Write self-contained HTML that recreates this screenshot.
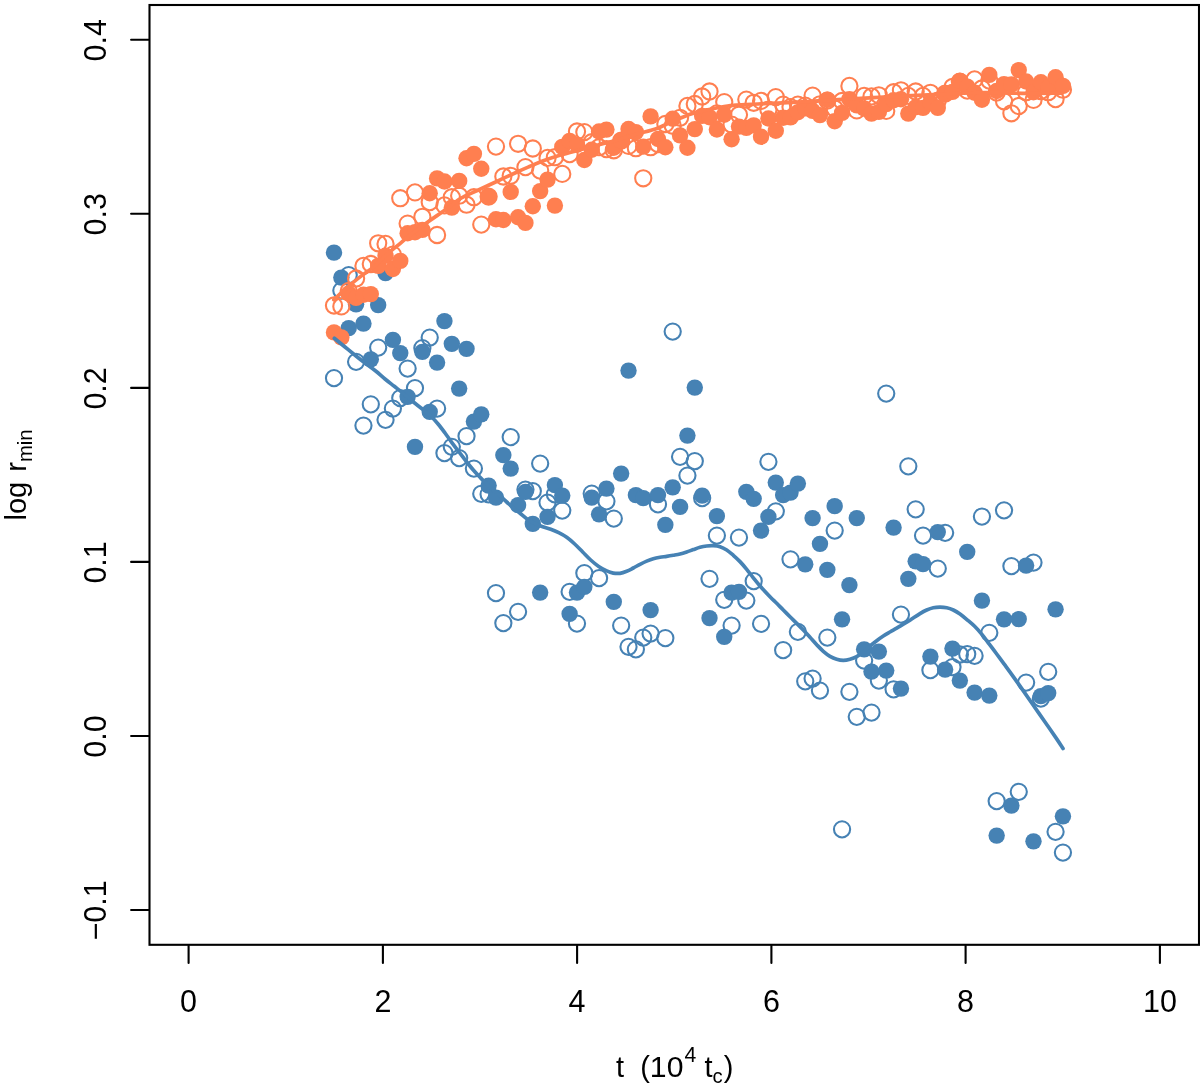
<!DOCTYPE html>
<html><head><meta charset="utf-8"><title>plot</title>
<style>
html,body{margin:0;padding:0;background:#fff;}
svg{display:block;}
text{font-family:"Liberation Sans",Arial,Helvetica,sans-serif;fill:#000;}
</style></head><body>
<svg width="1200" height="1091" viewBox="0 0 1200 1091">
<rect x="0" y="0" width="1200" height="1091" fill="#fff"/>

<g fill="none" stroke="#000" stroke-width="2.1" stroke-linecap="round" stroke-linejoin="miter">
<rect x="149.5" y="5.0" width="1049.5" height="939.8"/>
<line x1="188.6" y1="945.8" x2="188.6" y2="962.9"/>
<line x1="382.9" y1="945.8" x2="382.9" y2="962.9"/>
<line x1="577.1" y1="945.8" x2="577.1" y2="962.9"/>
<line x1="771.4" y1="945.8" x2="771.4" y2="962.9"/>
<line x1="965.6" y1="945.8" x2="965.6" y2="962.9"/>
<line x1="1159.9" y1="945.8" x2="1159.9" y2="962.9"/>
<line x1="131.1" y1="910.0" x2="148.5" y2="910.0"/>
<line x1="131.1" y1="736.0" x2="148.5" y2="736.0"/>
<line x1="131.1" y1="561.9" x2="148.5" y2="561.9"/>
<line x1="131.1" y1="387.9" x2="148.5" y2="387.9"/>
<line x1="131.1" y1="213.8" x2="148.5" y2="213.8"/>
<line x1="131.1" y1="39.8" x2="148.5" y2="39.8"/>
</g>
<g font-size="30.5" text-anchor="middle">
<text transform="translate(188.6 1011.7) scale(1 1.020)">0</text>
<text transform="translate(382.9 1011.7) scale(1 1.020)">2</text>
<text transform="translate(577.1 1011.7) scale(1 1.020)">4</text>
<text transform="translate(771.4 1011.7) scale(1 1.020)">6</text>
<text transform="translate(965.6 1011.7) scale(1 1.020)">8</text>
<text transform="translate(1159.9 1011.7) scale(1 1.020)">10</text>
<text transform="translate(106.2 910.5) rotate(-90) scale(1 1.020)">−0.1</text>
<text transform="translate(106.2 736.5) rotate(-90) scale(1 1.020)">0.0</text>
<text transform="translate(106.2 562.4) rotate(-90) scale(1 1.020)">0.1</text>
<text transform="translate(106.2 388.4) rotate(-90) scale(1 1.020)">0.2</text>
<text transform="translate(106.2 214.3) rotate(-90) scale(1 1.020)">0.3</text>
<text transform="translate(106.2 40.3) rotate(-90) scale(1 1.020)">0.4</text>
</g>
<text transform="translate(616 1077.3)" font-size="29" xml:space="preserve">t  (<tspan font-size="30.2">10</tspan><tspan font-size="21.2" dy="-15" dx="1.2">4</tspan><tspan dy="15"> t</tspan><tspan font-size="20.3" dy="6">c</tspan><tspan dy="-6" dx="1">)</tspan></text>
<text transform="translate(26 520.5) rotate(-90)" font-size="29" word-spacing="2">log r<tspan font-size="20.3" dy="6.2">min</tspan></text>
<g fill="none" stroke="#4682B4" stroke-width="2.08">
<circle cx="334.00" cy="378.10" r="8.10"/>
<circle cx="341.36" cy="290.60" r="8.10"/>
<circle cx="348.73" cy="275.10" r="8.10"/>
<circle cx="356.09" cy="361.85" r="8.10"/>
<circle cx="363.45" cy="425.60" r="8.10"/>
<circle cx="370.81" cy="404.35" r="8.10"/>
<circle cx="378.18" cy="347.60" r="8.10"/>
<circle cx="385.54" cy="419.85" r="8.10"/>
<circle cx="392.90" cy="408.60" r="8.10"/>
<circle cx="400.27" cy="398.10" r="8.10"/>
<circle cx="407.63" cy="368.60" r="8.10"/>
<circle cx="414.99" cy="388.10" r="8.10"/>
<circle cx="422.36" cy="348.10" r="8.10"/>
<circle cx="429.72" cy="337.60" r="8.10"/>
<circle cx="437.08" cy="408.60" r="8.10"/>
<circle cx="444.44" cy="453.10" r="8.10"/>
<circle cx="451.81" cy="446.85" r="8.10"/>
<circle cx="459.17" cy="458.10" r="8.10"/>
<circle cx="466.53" cy="436.10" r="8.10"/>
<circle cx="473.90" cy="468.60" r="8.10"/>
<circle cx="481.26" cy="493.85" r="8.10"/>
<circle cx="488.62" cy="494.35" r="8.10"/>
<circle cx="495.99" cy="593.10" r="8.10"/>
<circle cx="503.35" cy="623.10" r="8.10"/>
<circle cx="510.71" cy="437.10" r="8.10"/>
<circle cx="518.08" cy="611.85" r="8.10"/>
<circle cx="525.44" cy="489.60" r="8.10"/>
<circle cx="532.80" cy="491.10" r="8.10"/>
<circle cx="540.16" cy="463.60" r="8.10"/>
<circle cx="547.53" cy="502.60" r="8.10"/>
<circle cx="554.89" cy="494.35" r="8.10"/>
<circle cx="562.25" cy="510.60" r="8.10"/>
<circle cx="569.62" cy="591.85" r="8.10"/>
<circle cx="576.98" cy="623.60" r="8.10"/>
<circle cx="584.34" cy="573.10" r="8.10"/>
<circle cx="591.71" cy="493.60" r="8.10"/>
<circle cx="599.07" cy="578.10" r="8.10"/>
<circle cx="606.43" cy="501.35" r="8.10"/>
<circle cx="613.79" cy="518.60" r="8.10"/>
<circle cx="621.16" cy="625.60" r="8.10"/>
<circle cx="628.52" cy="646.85" r="8.10"/>
<circle cx="635.88" cy="649.35" r="8.10"/>
<circle cx="643.25" cy="637.60" r="8.10"/>
<circle cx="650.61" cy="633.60" r="8.10"/>
<circle cx="657.97" cy="504.35" r="8.10"/>
<circle cx="665.34" cy="638.10" r="8.10"/>
<circle cx="672.70" cy="331.60" r="8.10"/>
<circle cx="680.06" cy="456.85" r="8.10"/>
<circle cx="687.42" cy="475.60" r="8.10"/>
<circle cx="694.79" cy="461.10" r="8.10"/>
<circle cx="702.15" cy="498.10" r="8.10"/>
<circle cx="709.51" cy="578.85" r="8.10"/>
<circle cx="716.88" cy="535.60" r="8.10"/>
<circle cx="724.24" cy="599.85" r="8.10"/>
<circle cx="731.60" cy="625.60" r="8.10"/>
<circle cx="738.97" cy="537.60" r="8.10"/>
<circle cx="746.33" cy="600.60" r="8.10"/>
<circle cx="753.69" cy="581.10" r="8.10"/>
<circle cx="761.05" cy="623.85" r="8.10"/>
<circle cx="768.42" cy="461.85" r="8.10"/>
<circle cx="775.78" cy="511.35" r="8.10"/>
<circle cx="783.14" cy="650.10" r="8.10"/>
<circle cx="790.51" cy="559.35" r="8.10"/>
<circle cx="797.87" cy="631.85" r="8.10"/>
<circle cx="805.23" cy="681.35" r="8.10"/>
<circle cx="812.60" cy="678.60" r="8.10"/>
<circle cx="819.96" cy="690.60" r="8.10"/>
<circle cx="827.32" cy="637.60" r="8.10"/>
<circle cx="834.68" cy="530.60" r="8.10"/>
<circle cx="842.05" cy="829.35" r="8.10"/>
<circle cx="849.41" cy="691.85" r="8.10"/>
<circle cx="856.77" cy="716.85" r="8.10"/>
<circle cx="864.14" cy="660.60" r="8.10"/>
<circle cx="871.50" cy="712.60" r="8.10"/>
<circle cx="878.86" cy="680.60" r="8.10"/>
<circle cx="886.23" cy="393.60" r="8.10"/>
<circle cx="893.59" cy="689.35" r="8.10"/>
<circle cx="900.95" cy="614.60" r="8.10"/>
<circle cx="908.31" cy="466.35" r="8.10"/>
<circle cx="915.68" cy="509.35" r="8.10"/>
<circle cx="923.04" cy="535.60" r="8.10"/>
<circle cx="930.40" cy="670.10" r="8.10"/>
<circle cx="937.77" cy="568.60" r="8.10"/>
<circle cx="945.13" cy="532.85" r="8.10"/>
<circle cx="952.49" cy="667.10" r="8.10"/>
<circle cx="959.86" cy="654.50" r="8.10"/>
<circle cx="967.22" cy="654.10" r="8.10"/>
<circle cx="974.58" cy="655.85" r="8.10"/>
<circle cx="981.94" cy="516.60" r="8.10"/>
<circle cx="989.31" cy="632.85" r="8.10"/>
<circle cx="996.67" cy="801.10" r="8.10"/>
<circle cx="1004.03" cy="510.35" r="8.10"/>
<circle cx="1011.40" cy="566.10" r="8.10"/>
<circle cx="1018.76" cy="791.85" r="8.10"/>
<circle cx="1026.12" cy="682.60" r="8.10"/>
<circle cx="1033.49" cy="562.60" r="8.10"/>
<circle cx="1040.85" cy="698.60" r="8.10"/>
<circle cx="1048.21" cy="671.85" r="8.10"/>
<circle cx="1055.57" cy="831.85" r="8.10"/>
<circle cx="1062.94" cy="852.60" r="8.10"/>
</g>
<g fill="#4682B4" stroke="none">
<circle cx="334.00" cy="252.60" r="8.20"/>
<circle cx="341.36" cy="277.60" r="8.20"/>
<circle cx="348.73" cy="328.10" r="8.20"/>
<circle cx="356.09" cy="304.35" r="8.20"/>
<circle cx="363.45" cy="323.60" r="8.20"/>
<circle cx="370.81" cy="359.35" r="8.20"/>
<circle cx="378.18" cy="305.10" r="8.20"/>
<circle cx="385.54" cy="273.10" r="8.20"/>
<circle cx="392.90" cy="339.85" r="8.20"/>
<circle cx="400.27" cy="353.10" r="8.20"/>
<circle cx="407.63" cy="396.85" r="8.20"/>
<circle cx="414.99" cy="446.85" r="8.20"/>
<circle cx="422.36" cy="351.85" r="8.20"/>
<circle cx="429.72" cy="411.85" r="8.20"/>
<circle cx="437.08" cy="362.60" r="8.20"/>
<circle cx="444.44" cy="321.10" r="8.20"/>
<circle cx="451.81" cy="343.85" r="8.20"/>
<circle cx="459.17" cy="388.60" r="8.20"/>
<circle cx="466.53" cy="348.85" r="8.20"/>
<circle cx="473.90" cy="421.60" r="8.20"/>
<circle cx="481.26" cy="414.35" r="8.20"/>
<circle cx="488.62" cy="485.60" r="8.20"/>
<circle cx="495.99" cy="497.60" r="8.20"/>
<circle cx="503.35" cy="455.10" r="8.20"/>
<circle cx="510.71" cy="468.60" r="8.20"/>
<circle cx="518.08" cy="505.10" r="8.20"/>
<circle cx="525.44" cy="491.85" r="8.20"/>
<circle cx="532.80" cy="523.85" r="8.20"/>
<circle cx="540.16" cy="592.60" r="8.20"/>
<circle cx="547.53" cy="516.85" r="8.20"/>
<circle cx="554.89" cy="485.10" r="8.20"/>
<circle cx="562.25" cy="495.60" r="8.20"/>
<circle cx="569.62" cy="613.85" r="8.20"/>
<circle cx="576.98" cy="592.60" r="8.20"/>
<circle cx="584.34" cy="586.85" r="8.20"/>
<circle cx="591.71" cy="497.60" r="8.20"/>
<circle cx="599.07" cy="514.35" r="8.20"/>
<circle cx="606.43" cy="488.60" r="8.20"/>
<circle cx="613.79" cy="601.85" r="8.20"/>
<circle cx="621.16" cy="473.60" r="8.20"/>
<circle cx="628.52" cy="370.60" r="8.20"/>
<circle cx="635.88" cy="495.10" r="8.20"/>
<circle cx="643.25" cy="498.10" r="8.20"/>
<circle cx="650.61" cy="610.10" r="8.20"/>
<circle cx="657.97" cy="495.10" r="8.20"/>
<circle cx="665.34" cy="524.85" r="8.20"/>
<circle cx="672.70" cy="487.35" r="8.20"/>
<circle cx="680.06" cy="506.85" r="8.20"/>
<circle cx="687.42" cy="435.60" r="8.20"/>
<circle cx="694.79" cy="387.60" r="8.20"/>
<circle cx="702.15" cy="495.60" r="8.20"/>
<circle cx="709.51" cy="618.10" r="8.20"/>
<circle cx="716.88" cy="516.10" r="8.20"/>
<circle cx="724.24" cy="636.85" r="8.20"/>
<circle cx="731.60" cy="592.60" r="8.20"/>
<circle cx="738.97" cy="591.85" r="8.20"/>
<circle cx="746.33" cy="491.85" r="8.20"/>
<circle cx="753.69" cy="498.85" r="8.20"/>
<circle cx="761.05" cy="530.60" r="8.20"/>
<circle cx="768.42" cy="516.85" r="8.20"/>
<circle cx="775.78" cy="482.60" r="8.20"/>
<circle cx="783.14" cy="495.10" r="8.20"/>
<circle cx="790.51" cy="492.60" r="8.20"/>
<circle cx="797.87" cy="483.60" r="8.20"/>
<circle cx="805.23" cy="564.35" r="8.20"/>
<circle cx="812.60" cy="518.10" r="8.20"/>
<circle cx="819.96" cy="543.85" r="8.20"/>
<circle cx="827.32" cy="569.85" r="8.20"/>
<circle cx="834.68" cy="506.10" r="8.20"/>
<circle cx="842.05" cy="619.35" r="8.20"/>
<circle cx="849.41" cy="585.10" r="8.20"/>
<circle cx="856.77" cy="518.10" r="8.20"/>
<circle cx="864.14" cy="649.35" r="8.20"/>
<circle cx="871.50" cy="671.60" r="8.20"/>
<circle cx="878.86" cy="651.60" r="8.20"/>
<circle cx="886.23" cy="670.60" r="8.20"/>
<circle cx="893.59" cy="527.60" r="8.20"/>
<circle cx="900.95" cy="688.60" r="8.20"/>
<circle cx="908.31" cy="578.85" r="8.20"/>
<circle cx="915.68" cy="561.35" r="8.20"/>
<circle cx="923.04" cy="564.10" r="8.20"/>
<circle cx="930.40" cy="656.60" r="8.20"/>
<circle cx="937.77" cy="532.10" r="8.20"/>
<circle cx="945.13" cy="669.60" r="8.20"/>
<circle cx="952.49" cy="648.60" r="8.20"/>
<circle cx="959.86" cy="680.60" r="8.20"/>
<circle cx="967.22" cy="551.85" r="8.20"/>
<circle cx="974.58" cy="692.60" r="8.20"/>
<circle cx="981.94" cy="600.60" r="8.20"/>
<circle cx="989.31" cy="695.60" r="8.20"/>
<circle cx="996.67" cy="835.60" r="8.20"/>
<circle cx="1004.03" cy="619.35" r="8.20"/>
<circle cx="1011.40" cy="805.60" r="8.20"/>
<circle cx="1018.76" cy="619.10" r="8.20"/>
<circle cx="1026.12" cy="565.60" r="8.20"/>
<circle cx="1033.49" cy="841.35" r="8.20"/>
<circle cx="1040.85" cy="696.10" r="8.20"/>
<circle cx="1048.21" cy="693.10" r="8.20"/>
<circle cx="1055.57" cy="609.35" r="8.20"/>
<circle cx="1062.94" cy="816.35" r="8.20"/>
</g>
<g fill="none" stroke="#FF7F50" stroke-width="2.08">
<circle cx="334.00" cy="305.50" r="8.10"/>
<circle cx="341.36" cy="306.40" r="8.10"/>
<circle cx="348.73" cy="291.00" r="8.10"/>
<circle cx="356.09" cy="278.50" r="8.10"/>
<circle cx="363.45" cy="265.90" r="8.10"/>
<circle cx="370.81" cy="264.00" r="8.10"/>
<circle cx="378.18" cy="243.30" r="8.10"/>
<circle cx="385.54" cy="243.90" r="8.10"/>
<circle cx="392.90" cy="254.60" r="8.10"/>
<circle cx="400.27" cy="198.20" r="8.10"/>
<circle cx="407.63" cy="223.60" r="8.10"/>
<circle cx="414.99" cy="192.40" r="8.10"/>
<circle cx="422.36" cy="216.80" r="8.10"/>
<circle cx="429.72" cy="202.10" r="8.10"/>
<circle cx="437.08" cy="235.00" r="8.10"/>
<circle cx="444.44" cy="205.40" r="8.10"/>
<circle cx="451.81" cy="197.20" r="8.10"/>
<circle cx="459.17" cy="195.70" r="8.10"/>
<circle cx="466.53" cy="204.70" r="8.10"/>
<circle cx="473.90" cy="197.20" r="8.10"/>
<circle cx="481.26" cy="224.60" r="8.10"/>
<circle cx="488.62" cy="196.60" r="8.10"/>
<circle cx="495.99" cy="146.60" r="8.10"/>
<circle cx="503.35" cy="176.50" r="8.10"/>
<circle cx="510.71" cy="175.80" r="8.10"/>
<circle cx="518.08" cy="143.80" r="8.10"/>
<circle cx="525.44" cy="167.10" r="8.10"/>
<circle cx="532.80" cy="148.50" r="8.10"/>
<circle cx="540.16" cy="170.60" r="8.10"/>
<circle cx="547.53" cy="157.90" r="8.10"/>
<circle cx="554.89" cy="157.20" r="8.10"/>
<circle cx="562.25" cy="173.90" r="8.10"/>
<circle cx="569.62" cy="154.10" r="8.10"/>
<circle cx="576.98" cy="131.50" r="8.10"/>
<circle cx="584.34" cy="132.10" r="8.10"/>
<circle cx="591.71" cy="142.20" r="8.10"/>
<circle cx="599.07" cy="147.20" r="8.10"/>
<circle cx="606.43" cy="149.10" r="8.10"/>
<circle cx="613.79" cy="150.30" r="8.10"/>
<circle cx="621.16" cy="140.60" r="8.10"/>
<circle cx="628.52" cy="145.90" r="8.10"/>
<circle cx="635.88" cy="148.20" r="8.10"/>
<circle cx="643.25" cy="178.30" r="8.10"/>
<circle cx="650.61" cy="147.20" r="8.10"/>
<circle cx="657.97" cy="144.10" r="8.10"/>
<circle cx="665.34" cy="124.00" r="8.10"/>
<circle cx="672.70" cy="125.80" r="8.10"/>
<circle cx="680.06" cy="117.80" r="8.10"/>
<circle cx="687.42" cy="105.90" r="8.10"/>
<circle cx="694.79" cy="104.00" r="8.10"/>
<circle cx="702.15" cy="96.50" r="8.10"/>
<circle cx="709.51" cy="91.50" r="8.10"/>
<circle cx="716.88" cy="113.40" r="8.10"/>
<circle cx="724.24" cy="102.10" r="8.10"/>
<circle cx="731.60" cy="124.60" r="8.10"/>
<circle cx="738.97" cy="114.70" r="8.10"/>
<circle cx="746.33" cy="99.60" r="8.10"/>
<circle cx="753.69" cy="102.80" r="8.10"/>
<circle cx="761.05" cy="100.90" r="8.10"/>
<circle cx="768.42" cy="109.70" r="8.10"/>
<circle cx="775.78" cy="97.10" r="8.10"/>
<circle cx="783.14" cy="104.60" r="8.10"/>
<circle cx="790.51" cy="107.10" r="8.10"/>
<circle cx="797.87" cy="104.60" r="8.10"/>
<circle cx="805.23" cy="105.60" r="8.10"/>
<circle cx="812.60" cy="95.60" r="8.10"/>
<circle cx="819.96" cy="104.30" r="8.10"/>
<circle cx="827.32" cy="100.60" r="8.10"/>
<circle cx="834.68" cy="108.50" r="8.10"/>
<circle cx="842.05" cy="101.00" r="8.10"/>
<circle cx="849.41" cy="85.90" r="8.10"/>
<circle cx="856.77" cy="110.40" r="8.10"/>
<circle cx="864.14" cy="95.90" r="8.10"/>
<circle cx="871.50" cy="96.40" r="8.10"/>
<circle cx="878.86" cy="95.30" r="8.10"/>
<circle cx="886.23" cy="110.90" r="8.10"/>
<circle cx="893.59" cy="92.20" r="8.10"/>
<circle cx="900.95" cy="90.30" r="8.10"/>
<circle cx="908.31" cy="95.90" r="8.10"/>
<circle cx="915.68" cy="91.50" r="8.10"/>
<circle cx="923.04" cy="95.90" r="8.10"/>
<circle cx="930.40" cy="92.80" r="8.10"/>
<circle cx="937.77" cy="100.60" r="8.10"/>
<circle cx="945.13" cy="93.60" r="8.10"/>
<circle cx="952.49" cy="87.00" r="8.10"/>
<circle cx="959.86" cy="81.60" r="8.10"/>
<circle cx="967.22" cy="90.60" r="8.10"/>
<circle cx="974.58" cy="79.40" r="8.10"/>
<circle cx="981.94" cy="88.50" r="8.10"/>
<circle cx="989.31" cy="80.60" r="8.10"/>
<circle cx="996.67" cy="92.60" r="8.10"/>
<circle cx="1004.03" cy="101.30" r="8.10"/>
<circle cx="1011.40" cy="113.30" r="8.10"/>
<circle cx="1018.76" cy="106.00" r="8.10"/>
<circle cx="1026.12" cy="92.20" r="8.10"/>
<circle cx="1033.49" cy="99.90" r="8.10"/>
<circle cx="1040.85" cy="91.00" r="8.10"/>
<circle cx="1048.21" cy="92.20" r="8.10"/>
<circle cx="1055.57" cy="99.10" r="8.10"/>
<circle cx="1062.94" cy="89.70" r="8.10"/>
</g>
<g fill="#FF7F50" stroke="none">
<circle cx="334.00" cy="332.40" r="8.20"/>
<circle cx="341.36" cy="337.40" r="8.20"/>
<circle cx="348.73" cy="293.50" r="8.20"/>
<circle cx="356.09" cy="297.90" r="8.20"/>
<circle cx="363.45" cy="294.80" r="8.20"/>
<circle cx="370.81" cy="294.10" r="8.20"/>
<circle cx="378.18" cy="265.90" r="8.20"/>
<circle cx="385.54" cy="255.80" r="8.20"/>
<circle cx="392.90" cy="269.00" r="8.20"/>
<circle cx="400.27" cy="260.90" r="8.20"/>
<circle cx="407.63" cy="233.30" r="8.20"/>
<circle cx="414.99" cy="232.20" r="8.20"/>
<circle cx="422.36" cy="229.90" r="8.20"/>
<circle cx="429.72" cy="193.20" r="8.20"/>
<circle cx="437.08" cy="178.40" r="8.20"/>
<circle cx="444.44" cy="181.50" r="8.20"/>
<circle cx="451.81" cy="207.60" r="8.20"/>
<circle cx="459.17" cy="180.90" r="8.20"/>
<circle cx="466.53" cy="158.30" r="8.20"/>
<circle cx="473.90" cy="153.90" r="8.20"/>
<circle cx="481.26" cy="168.70" r="8.20"/>
<circle cx="488.62" cy="196.90" r="8.20"/>
<circle cx="495.99" cy="219.20" r="8.20"/>
<circle cx="503.35" cy="220.00" r="8.20"/>
<circle cx="510.71" cy="191.90" r="8.20"/>
<circle cx="518.08" cy="217.30" r="8.20"/>
<circle cx="525.44" cy="222.90" r="8.20"/>
<circle cx="532.80" cy="206.30" r="8.20"/>
<circle cx="540.16" cy="191.10" r="8.20"/>
<circle cx="547.53" cy="179.60" r="8.20"/>
<circle cx="554.89" cy="205.60" r="8.20"/>
<circle cx="562.25" cy="146.90" r="8.20"/>
<circle cx="569.62" cy="140.90" r="8.20"/>
<circle cx="576.98" cy="144.70" r="8.20"/>
<circle cx="584.34" cy="160.00" r="8.20"/>
<circle cx="591.71" cy="149.70" r="8.20"/>
<circle cx="599.07" cy="131.50" r="8.20"/>
<circle cx="606.43" cy="129.60" r="8.20"/>
<circle cx="613.79" cy="147.80" r="8.20"/>
<circle cx="621.16" cy="140.90" r="8.20"/>
<circle cx="628.52" cy="129.00" r="8.20"/>
<circle cx="635.88" cy="132.10" r="8.20"/>
<circle cx="643.25" cy="146.60" r="8.20"/>
<circle cx="650.61" cy="116.40" r="8.20"/>
<circle cx="657.97" cy="139.00" r="8.20"/>
<circle cx="665.34" cy="147.20" r="8.20"/>
<circle cx="672.70" cy="118.70" r="8.20"/>
<circle cx="680.06" cy="135.40" r="8.20"/>
<circle cx="687.42" cy="147.70" r="8.20"/>
<circle cx="694.79" cy="129.10" r="8.20"/>
<circle cx="702.15" cy="115.90" r="8.20"/>
<circle cx="709.51" cy="117.20" r="8.20"/>
<circle cx="716.88" cy="129.50" r="8.20"/>
<circle cx="724.24" cy="114.70" r="8.20"/>
<circle cx="731.60" cy="139.20" r="8.20"/>
<circle cx="738.97" cy="126.60" r="8.20"/>
<circle cx="746.33" cy="127.90" r="8.20"/>
<circle cx="753.69" cy="125.40" r="8.20"/>
<circle cx="761.05" cy="136.70" r="8.20"/>
<circle cx="768.42" cy="118.50" r="8.20"/>
<circle cx="775.78" cy="130.80" r="8.20"/>
<circle cx="783.14" cy="117.80" r="8.20"/>
<circle cx="790.51" cy="117.40" r="8.20"/>
<circle cx="797.87" cy="112.20" r="8.20"/>
<circle cx="805.23" cy="108.40" r="8.20"/>
<circle cx="812.60" cy="110.90" r="8.20"/>
<circle cx="819.96" cy="115.10" r="8.20"/>
<circle cx="827.32" cy="99.70" r="8.20"/>
<circle cx="834.68" cy="121.20" r="8.20"/>
<circle cx="842.05" cy="112.90" r="8.20"/>
<circle cx="849.41" cy="99.10" r="8.20"/>
<circle cx="856.77" cy="105.40" r="8.20"/>
<circle cx="864.14" cy="108.50" r="8.20"/>
<circle cx="871.50" cy="113.60" r="8.20"/>
<circle cx="878.86" cy="111.90" r="8.20"/>
<circle cx="886.23" cy="104.10" r="8.20"/>
<circle cx="893.59" cy="100.20" r="8.20"/>
<circle cx="900.95" cy="99.20" r="8.20"/>
<circle cx="908.31" cy="113.60" r="8.20"/>
<circle cx="915.68" cy="107.20" r="8.20"/>
<circle cx="923.04" cy="107.90" r="8.20"/>
<circle cx="930.40" cy="102.60" r="8.20"/>
<circle cx="937.77" cy="107.90" r="8.20"/>
<circle cx="945.13" cy="94.10" r="8.20"/>
<circle cx="952.49" cy="91.90" r="8.20"/>
<circle cx="959.86" cy="80.90" r="8.20"/>
<circle cx="967.22" cy="86.60" r="8.20"/>
<circle cx="974.58" cy="92.80" r="8.20"/>
<circle cx="981.94" cy="99.80" r="8.20"/>
<circle cx="989.31" cy="74.90" r="8.20"/>
<circle cx="996.67" cy="91.00" r="8.20"/>
<circle cx="1004.03" cy="84.10" r="8.20"/>
<circle cx="1011.40" cy="84.40" r="8.20"/>
<circle cx="1018.76" cy="70.10" r="8.20"/>
<circle cx="1026.12" cy="81.50" r="8.20"/>
<circle cx="1033.49" cy="92.20" r="8.20"/>
<circle cx="1040.85" cy="82.20" r="8.20"/>
<circle cx="1048.21" cy="87.50" r="8.20"/>
<circle cx="1055.57" cy="77.20" r="8.20"/>
<circle cx="1062.94" cy="85.90" r="8.20"/>
</g>
<path d="M334.30 338.30 C336.08 339.75 341.43 344.10 345.00 347.00 C348.57 349.90 352.37 353.03 355.70 355.70 C359.03 358.37 361.67 360.45 365.00 363.00 C368.33 365.55 372.37 368.33 375.70 371.00 C379.03 373.67 381.90 376.45 385.00 379.00 C388.10 381.55 391.18 383.85 394.30 386.30 C397.42 388.75 400.58 391.13 403.70 393.70 C406.82 396.27 409.90 399.15 413.00 401.70 C416.10 404.25 419.18 406.45 422.30 409.00 C425.42 411.55 429.03 414.45 431.70 417.00 C434.37 419.55 436.08 421.63 438.30 424.30 C440.52 426.97 442.77 430.00 445.00 433.00 C447.23 436.00 449.48 439.30 451.70 442.30 C453.92 445.30 455.80 447.72 458.30 451.00 C460.80 454.28 464.20 458.83 466.70 462.00 C469.20 465.17 471.08 467.45 473.30 470.00 C475.52 472.55 477.77 474.97 480.00 477.30 C482.23 479.63 483.37 480.88 486.70 484.00 C490.03 487.12 496.67 493.00 500.00 496.00 C503.33 499.00 504.48 500.00 506.70 502.00 C508.92 504.00 511.08 506.12 513.30 508.00 C515.52 509.88 517.77 511.52 520.00 513.30 C522.23 515.08 524.25 517.03 526.70 518.70 C529.15 520.37 532.03 521.97 534.70 523.30 C537.37 524.63 540.03 525.70 542.70 526.70 C545.37 527.70 548.03 528.30 550.70 529.30 C553.37 530.30 556.03 531.37 558.70 532.70 C561.37 534.03 564.03 535.42 566.70 537.30 C569.37 539.18 572.03 541.55 574.70 544.00 C577.37 546.45 580.03 549.33 582.70 552.00 C585.37 554.67 588.03 557.58 590.70 560.00 C593.37 562.42 596.03 564.68 598.70 566.50 C601.37 568.32 604.27 569.80 606.70 570.90 C609.13 572.00 611.08 572.70 613.30 573.10 C615.52 573.50 617.77 573.60 620.00 573.30 C622.23 573.00 624.48 572.18 626.70 571.30 C628.92 570.42 631.08 569.17 633.30 568.00 C635.52 566.83 637.77 565.45 640.00 564.30 C642.23 563.15 644.48 562.03 646.70 561.10 C648.92 560.17 651.08 559.33 653.30 558.70 C655.52 558.07 657.77 557.68 660.00 557.30 C662.23 556.92 664.48 556.73 666.70 556.40 C668.92 556.07 671.08 555.70 673.30 555.30 C675.52 554.90 677.77 554.55 680.00 554.00 C682.23 553.45 684.48 552.73 686.70 552.00 C688.92 551.27 691.08 550.38 693.30 549.60 C695.52 548.82 697.77 547.90 700.00 547.30 C702.23 546.70 704.48 546.27 706.70 546.00 C708.92 545.73 711.08 545.58 713.30 545.70 C715.52 545.82 717.77 545.98 720.00 546.70 C722.23 547.42 724.48 548.57 726.70 550.00 C728.92 551.43 731.08 553.37 733.30 555.30 C735.52 557.23 737.77 559.27 740.00 561.60 C742.23 563.93 744.48 566.60 746.70 569.30 C748.92 572.00 751.08 575.02 753.30 577.80 C755.52 580.58 757.22 582.85 760.00 586.00 C762.78 589.15 767.22 593.82 770.00 596.70 C772.78 599.58 774.48 601.08 776.70 603.30 C778.92 605.52 781.08 607.77 783.30 610.00 C785.52 612.23 787.77 614.48 790.00 616.70 C792.23 618.92 794.48 621.08 796.70 623.30 C798.92 625.52 801.08 627.67 803.30 630.00 C805.52 632.33 807.77 634.85 810.00 637.30 C812.23 639.75 814.48 642.37 816.70 644.70 C818.92 647.03 821.08 649.37 823.30 651.30 C825.52 653.23 827.77 654.97 830.00 656.30 C832.23 657.63 834.48 658.62 836.70 659.30 C838.92 659.98 841.08 660.40 843.30 660.40 C845.52 660.40 847.77 659.92 850.00 659.30 C852.23 658.68 854.48 657.92 856.70 656.70 C858.92 655.48 861.08 653.78 863.30 652.00 C865.52 650.22 867.77 647.88 870.00 646.00 C872.23 644.12 874.48 642.37 876.70 640.70 C878.92 639.03 881.08 637.45 883.30 636.00 C885.52 634.55 887.77 633.30 890.00 632.00 C892.23 630.70 894.48 629.50 896.70 628.20 C898.92 626.90 901.08 625.53 903.30 624.20 C905.52 622.87 907.22 621.97 910.00 620.20 C912.78 618.43 917.22 615.30 920.00 613.60 C922.78 611.90 924.48 610.98 926.70 610.00 C928.92 609.02 931.08 608.18 933.30 607.70 C935.52 607.22 937.77 607.10 940.00 607.10 C942.23 607.10 944.48 607.22 946.70 607.70 C948.92 608.18 951.08 608.95 953.30 610.00 C955.52 611.05 957.68 612.37 960.00 614.00 C962.32 615.63 964.77 617.75 967.20 619.80 C969.63 621.85 972.15 623.87 974.60 626.30 C977.05 628.73 979.45 631.43 981.90 634.40 C984.35 637.37 986.83 640.83 989.30 644.10 C991.77 647.37 994.25 650.70 996.70 654.00 C999.15 657.30 1001.45 660.43 1004.00 663.90 C1006.55 667.37 1008.83 670.38 1012.00 674.80 C1015.17 679.22 1019.33 685.17 1023.00 690.40 C1026.67 695.63 1030.33 700.93 1034.00 706.20 C1037.67 711.47 1041.33 716.72 1045.00 722.00 C1048.67 727.28 1053.00 733.48 1056.00 737.90 C1059.00 742.32 1061.83 746.73 1063.00 748.50" fill="none" stroke="#4682B4" stroke-width="3.7" stroke-linecap="round" stroke-linejoin="round"/>
<path d="M333.80 299.80 C336.32 297.50 344.30 289.98 348.90 286.00 C353.50 282.02 357.22 279.13 361.40 275.90 C365.58 272.67 370.02 269.95 374.00 266.60 C377.98 263.25 380.92 259.68 385.30 255.80 C389.68 251.92 396.53 246.43 400.30 243.30 C404.07 240.17 403.08 240.70 407.90 237.00 C412.72 233.30 423.77 225.07 429.20 221.10 C434.63 217.13 436.95 215.70 440.50 213.20 C444.05 210.70 447.20 208.55 450.50 206.10 C453.80 203.65 455.73 201.15 460.30 198.50 C464.87 195.85 471.83 193.03 477.90 190.20 C483.97 187.37 490.43 184.42 496.70 181.50 C502.97 178.58 510.27 175.10 515.50 172.70 C520.73 170.30 523.58 169.05 528.10 167.10 C532.62 165.15 537.05 163.07 542.60 161.00 C548.15 158.93 555.13 156.58 561.40 154.70 C567.67 152.82 573.93 151.37 580.20 149.70 C586.47 148.03 592.72 146.37 599.00 144.70 C605.28 143.03 611.62 141.48 617.90 139.70 C624.18 137.92 630.43 135.78 636.70 134.00 C642.97 132.22 649.95 130.90 655.50 129.00 C661.05 127.10 665.48 124.57 670.00 122.60 C674.52 120.63 678.42 118.83 682.60 117.20 C686.78 115.57 690.92 114.05 695.10 112.80 C699.28 111.55 703.52 110.63 707.70 109.70 C711.88 108.77 716.02 107.93 720.20 107.20 C724.38 106.47 728.62 105.73 732.80 105.30 C736.98 104.87 741.12 104.82 745.30 104.60 C749.48 104.38 753.72 104.20 757.90 104.00 C762.08 103.80 766.22 103.60 770.40 103.40 C774.58 103.20 778.82 103.02 783.00 102.80 C787.18 102.58 791.00 102.35 795.50 102.10 C800.00 101.85 804.25 101.62 810.00 101.30 C815.75 100.98 822.20 100.67 830.00 100.20 C837.80 99.73 850.13 98.90 856.80 98.50 C863.47 98.10 865.55 98.05 870.00 97.80 C874.45 97.55 878.50 97.27 883.50 97.00 C888.50 96.73 893.42 96.52 900.00 96.20 C906.58 95.88 914.67 95.48 923.00 95.10 C931.33 94.72 939.67 94.33 950.00 93.90 C960.33 93.47 973.00 92.60 985.00 92.50 C997.00 92.40 1009.08 93.20 1022.00 93.30 C1034.92 93.40 1055.75 93.13 1062.50 93.10" fill="none" stroke="#FF7F50" stroke-width="3.7" stroke-linecap="round" stroke-linejoin="round"/>
</svg></body></html>
